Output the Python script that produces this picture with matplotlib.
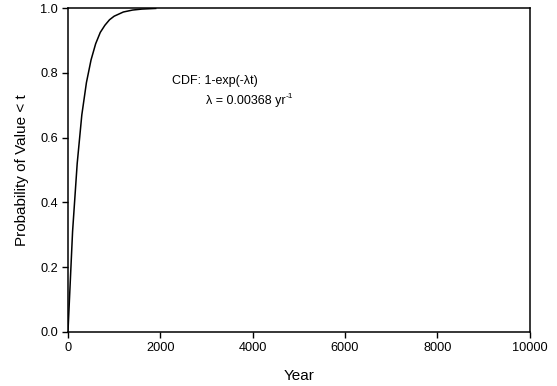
import matplotlib
matplotlib.use('Agg')
import matplotlib.pyplot as plt

plt.rcParams['font.family'] = ['Liberation Sans', 'DejaVu Sans']

# values (year, probability)
years = [0, 100, 200, 300, 400, 500, 600, 700, 800, 900, 1000, 1200, 1400, 1600, 1900]
prob = [0.0, 0.31, 0.52, 0.67, 0.77, 0.84, 0.89, 0.925, 0.947, 0.964, 0.975, 0.988, 0.994, 0.997, 0.999]

xticks = [0, 2000, 4000, 6000, 8000, 10000]
yticks = [0.0, 0.2, 0.4, 0.6, 0.8, 1.0]

fig = plt.figure(figsize=(5.57, 3.86), dpi=100)
ax = fig.add_axes([0.122, 0.140, 0.829, 0.839])

ax.plot(years, prob, color='black', lw=1.1)

ax.set_xlim(0, 10000)
ax.set_ylim(0, 1.0)
ax.set_xticks(xticks)
ax.set_yticks(yticks)
ax.set_yticklabels(['%.1f' % v for v in yticks])
ax.tick_params(direction='out', length=4, width=1, labelsize=9.2, pad=3)
for s in ax.spines.values():
    s.set_linewidth(1.1)

ax.set_xlabel('Year', fontsize=11, labelpad=11)
ax.set_ylabel('Probability of Value < t', fontsize=11, labelpad=8)

ax.text(0.225, 0.765, 'CDF: 1-exp(-λt)', transform=ax.transAxes, fontsize=9)
lam = ax.text(0.300, 0.705, 'λ = 0.00368 yr', transform=ax.transAxes, fontsize=9)
# small superscript placed right after the unit
ax.annotate('-1', xy=(1, 0.55), xycoords=lam, fontsize=6, va='bottom', ha='left')

fig.savefig('out.png', dpi=100)
